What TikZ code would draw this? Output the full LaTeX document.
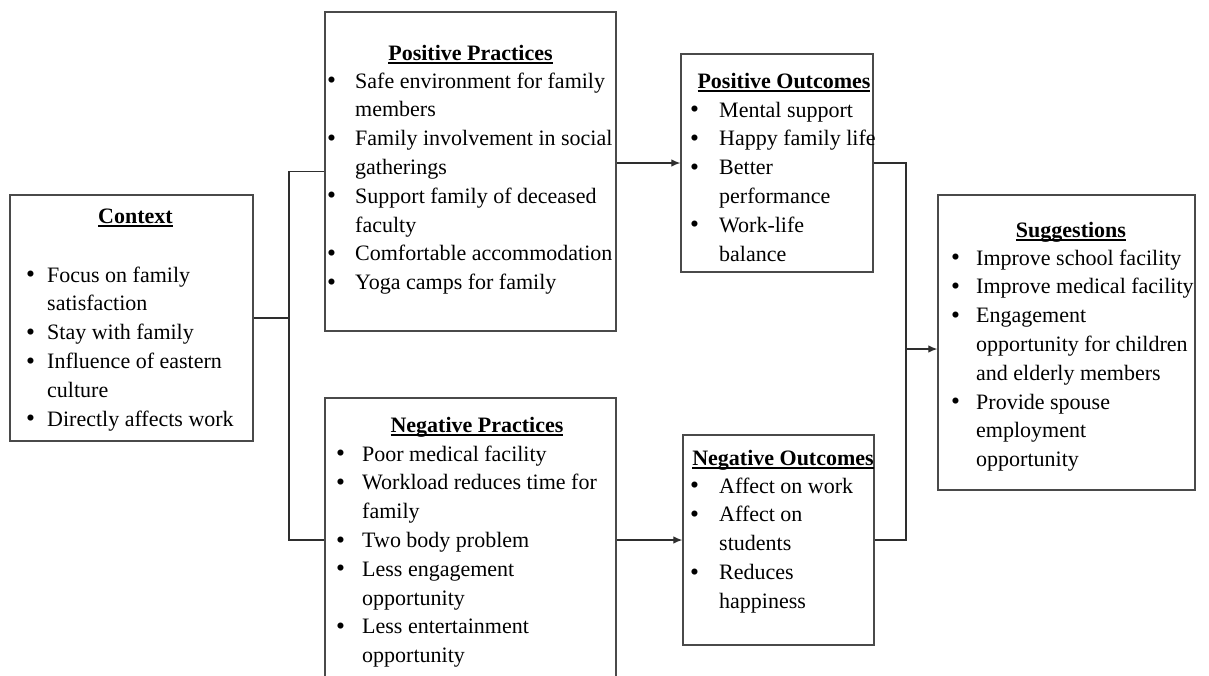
\documentclass[tikz,border=0pt]{standalone}
\usepackage{fontspec}
\setmainfont{Liberation Serif}
\usetikzlibrary{arrows.meta}

\definecolor{boxgray}{HTML}{4A4A4A}
\definecolor{linegray}{HTML}{2E2E2E}

% bold heading with a heavy underline
\newcommand\headul[1]{\sbox0{\bfseries #1}\rlap{\rule[-3.6pt]{\wd0}{1.5pt}}\usebox0}
% a slightly heavier list bullet
\newcommand\blt{\raisebox{-0.6pt}{\fontsize{25.5}{25.5}\selectfont\textbullet}}
% bulleted list: #1 = bullet column width, #2 = rows
\newcommand\bulletlist[2]{\begin{tabular}[t]{@{}p{#1}@{}l@{}}#2\end{tabular}}

\tikzset{
  panel/.style={draw=boxgray, line width=1.4pt, inner sep=0pt},
  listtext/.style={anchor=base west, inner sep=0pt, align=left,
    font=\fontsize{22}{28.8}\selectfont},
  heading/.style={anchor=base, inner sep=0pt,
    font=\fontsize{22}{28.8}\selectfont},
  link/.style={draw=linegray, line width=1.1pt},
  arrowlink/.style={link, -{Latex[length=9pt,width=7.5pt]}}
}

\begin{document}
\begin{tikzpicture}[x=1pt,y=-1pt]
\useasboundingbox (0,0) rectangle (1209,675);
\clip (0,0) rectangle (1209,675);

% frames
\node[panel, minimum width=243pt, minimum height=246pt] (ctx) at (131.5,318) {};
\node[panel, minimum width=291pt, minimum height=319pt] (pp) at (470.5,171.5) {};
\node[panel, minimum width=291pt, minimum height=284pt] (np) at (470.5,540) {};
\node[panel, minimum width=192pt, minimum height=218pt] (po) at (777,163) {};
\node[panel, minimum width=191pt, minimum height=210pt] (no) at (778.5,540) {};
\node[panel, minimum width=257pt, minimum height=295pt] (sg) at (1066.5,342.5) {};

% headings
\node[heading] (ctxh) at (135.5,223) {\headul{Context}};
\node[heading] (pph) at (470.5,60) {\headul{Positive Practices}};
\node[heading] (poh) at (784,88) {\headul{Positive Outcomes}};
\node[heading] (nph) at (477,432) {\headul{Negative Practices}};
\node[heading] (noh) at (783,465) {\headul{Negative Outcomes}};
\node[heading] (sgh) at (1071,237) {\headul{Suggestions}};

% lists
\node[listtext] (ctxl) at (26,282) {\bulletlist{21pt}{%
  \blt & Focus on family\\
  & satisfaction\\
  \blt & Stay with family\\
  \blt & Influence of eastern\\
  & culture\\
  \blt & Directly affects work}};

\node[listtext] (ppl) at (327,88) {\bulletlist{28pt}{%
  \blt & Safe environment for family\\
  & members\\
  \blt & Family involvement in social\\
  & gatherings\\
  \blt & Support family of deceased\\
  & faculty\\
  \blt & Comfortable accommodation\\
  \blt & Yoga camps for family}};

\node[listtext] (pol) at (690,117) {\bulletlist{29pt}{%
  \blt & Mental support\\
  \blt & Happy family life\\
  \blt & Better\\
  & performance\\
  \blt & Work-life\\
  & balance}};

\node[listtext] (npl) at (336,461) {\bulletlist{26pt}{%
  \blt & Poor medical facility\\
  \blt & Workload reduces time for\\
  & family\\
  \blt & Two body problem\\
  \blt & Less engagement\\
  & opportunity\\
  \blt & Less entertainment\\
  & opportunity}};

\node[listtext] (nol) at (690,493) {\bulletlist{29pt}{%
  \blt & Affect on work\\
  \blt & Affect on\\
  & students\\
  \blt & Reduces\\
  & happiness}};

\node[listtext] (sgl) at (951,265) {\bulletlist{25pt}{%
  \blt & Improve school facility\\
  \blt & Improve medical facility\\
  \blt & Engagement\\
  & opportunity for children\\
  & and elderly members\\
  \blt & Provide spouse\\
  & employment\\
  & opportunity}};

% connectors
\coordinate (jl) at (289,318);
\coordinate (jr) at (906,349);
\draw[link] (ctx.east) -- (jl);
\draw[link] (pp.west) -- (pp.west -| jl) -- (np.west -| jl) -- (np.west);
\draw[arrowlink] (pp.east |- po.west) -- (po.west);
\draw[arrowlink] (np.east) -- (no.west);
\draw[link] (po.east) -- (po.east -| jr) -- (no.east -| jr) -- (no.east);
\draw[arrowlink] (jr) -- (jr -| sg.west);
\end{tikzpicture}
\end{document}
